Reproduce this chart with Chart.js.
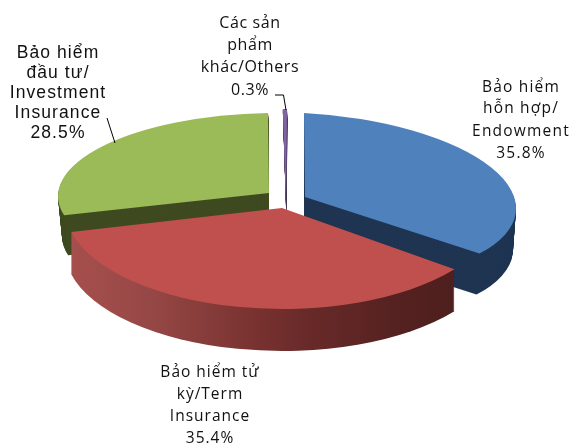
<!DOCTYPE html>
<html><head><meta charset="utf-8">
<style>html,body{margin:0;padding:0;background:#fff}canvas{display:block}</style>
<script src="https://cdn.jsdelivr.net/npm/chart.js@4"></script>
</head><body><canvas id="c" width="573" height="445"></canvas>
<script>
const categories = ["Bảo hiểm hỗn hợp/Endowment","Bảo hiểm tử kỳ/Term Insurance","Bảo hiểm đầu tư/Investment Insurance","Các sản phẩm khác/Others"];
const values = [35.8, 35.4, 28.5, 0.3];
const topColors = ["#4f81bd","#c0504d","#9bbb59","#8064a2"];
const sideColors = ["#1f3552",null,"#3f4a21","#3f3151"];
const redSideStops = [[71,"#a64f4d"],[150,"#964846"],[250,"#7a3331"],[300,"#6a2b2a"],[400,"#542120"],[457,"#4d1f1e"]];
// per-slice projection of the tilted, exploded pie: apex x,y then axis vectors a,b,c,d
const projection = [[305,197,211,11,1,84],[282,208,217,0,0,101],[269,193,211,-2,-3,80],[286,207,225,0,-1,98]];
const depthVec = [[-3,41],[0,42],[4,40],[0.5,10]];
const angleTweak = [[0,-4.4],[-1.5,0],[-1,0],[0,0]];
// horizontal limits of each slice's side wall [min,max]
const sideClip = [[304,573],[0,573],[0,269],[0,573]];
const drawOrder = [2,0,3,1];
const labelBlocks = [
 {lines:["Bảo hiểm","hỗn hợp/","Endowment","35.8%"],x:521,y:[92,113,136,158],font:"15.5px 'Open Sans'",sp:"1.2px"},
 {lines:["Bảo hiểm tử","kỳ/Term","Insurance","35.4%"],x:210,y:[377,399,421,443],font:"15.5px 'Open Sans'",sp:"1px"},
 {lines:["Bảo hiểm","đầu tư/","Investment","Insurance","28.5%"],x:58,y:[58,78,98,118,138],font:"17.5px 'Liberation Sans'",sp:"1.1px"},
 {lines:["Các sản","phẩm","khác/Others","0.3%"],x:250,y:[28,50,72,95],font:"16px 'Open Sans'",sp:"0.6px"}
];
const leaders = [[[107,118],[115,143]],[[275,95],[283.5,95],[286,110]]];

const pie3d = {
  id:"pie3d",
  beforeDatasetsDraw(chart){
    const ctx = chart.ctx, arcs = chart.getDatasetMeta(0).data;
    drawOrder.forEach(i=>{
      const arc = arcs[i], R = arc.outerRadius, [Xa,Ya,a,b,c,d] = projection[i], [dx,dy] = depthVec[i];
      const orig = arc.options, s0 = arc.startAngle, e0 = arc.endAngle, c0 = arc.circumference;
      arc.startAngle = s0 + angleTweak[i][0]*Math.PI/180;
      arc.endAngle = e0 + angleTweak[i][1]*Math.PI/180;
      arc.circumference = arc.endAngle - arc.startAngle;
      let side = sideColors[i];
      if(!side){
        const g = ctx.createLinearGradient(arc.x-R,0,arc.x+R,0);
        redSideStops.forEach(([x,col])=>g.addColorStop(Math.min(1,Math.max(0,((x-Xa)/a+1)/2)),col));
        side = g;
      }
      const n = Math.ceil(Math.hypot(dx,dy));
      for(let k=n;k>=0;k--){
        ctx.save();
        if(k>0){ctx.beginPath();ctx.rect(sideClip[i][0],0,sideClip[i][1]-sideClip[i][0],445);ctx.clip();}
        ctx.translate(Xa+dx*k/n, Ya+dy*k/n);
        ctx.transform(a/R,b/R,c/R,d/R,0,0);
        ctx.translate(-arc.x,-arc.y);
        arc.options = Object.assign({},orig,{backgroundColor:k===0?topColors[i]:side,borderWidth:0});
        arc.draw(ctx);
        ctx.restore();
      }
      arc.options = orig; arc.startAngle = s0; arc.endAngle = e0; arc.circumference = c0;
    });
    return false;
  },
  afterDraw(chart){
    const ctx = chart.ctx;
    ctx.save();
    ctx.strokeStyle="#000"; ctx.lineWidth=1;
    leaders.forEach(p=>{ctx.beginPath();p.forEach(([x,y],j)=>j?ctx.lineTo(x,y):ctx.moveTo(x,y));ctx.stroke();});
    ctx.fillStyle="#111"; ctx.textAlign="center"; ctx.textBaseline="alphabetic";
    labelBlocks.forEach(b=>{
      ctx.font=b.font; ctx.letterSpacing=b.sp;
      b.lines.forEach((t,j)=>ctx.fillText(t,b.x,b.y[j]));
    });
    ctx.restore();
  }
};

new Chart(document.getElementById("c"),{
  type:"pie",
  data:{labels:categories,datasets:[{data:values,backgroundColor:topColors,borderWidth:0,radius:100}]},
  options:{responsive:false,animation:false,layout:{padding:0},
    plugins:{legend:{display:false},tooltip:{enabled:false}}},
  plugins:[pie3d]
});
</script></body></html>
